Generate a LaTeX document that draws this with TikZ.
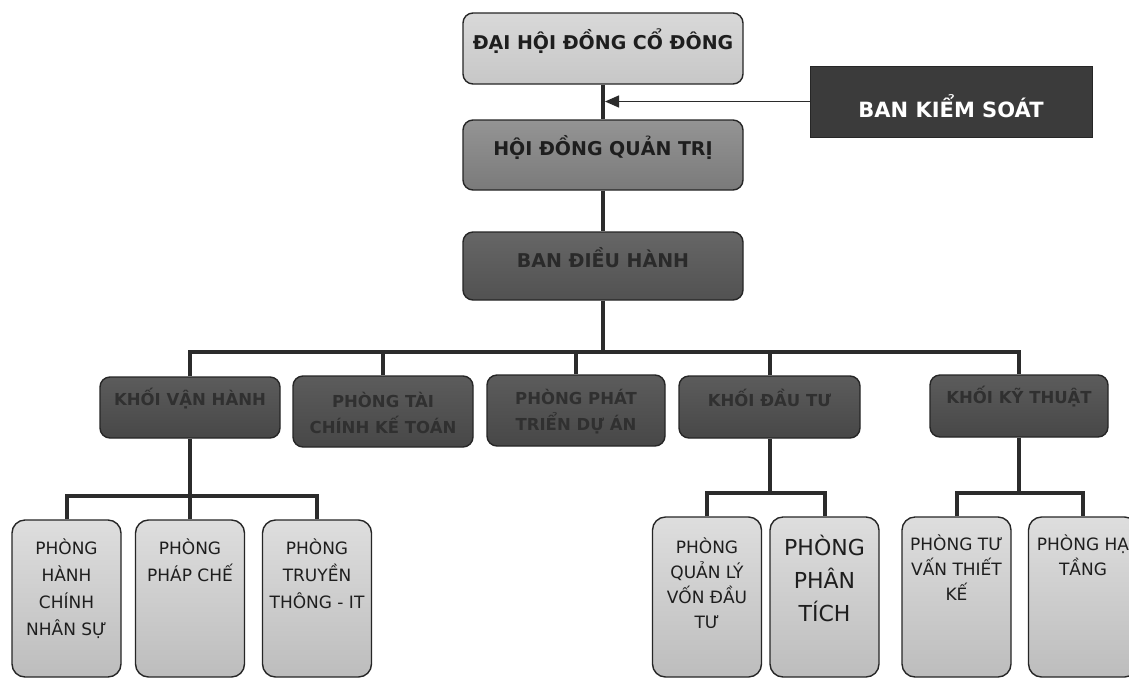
\documentclass[tikz,border=0pt]{standalone}
\usepackage{fontspec}
\setmainfont{DejaVu Sans}
\usetikzlibrary{arrows.meta}
\definecolor{lineC}{HTML}{2B2B2B}
\definecolor{edgeC}{HTML}{262626}
\definecolor{txtA}{HTML}{1E1E1E}
\definecolor{txtB}{HTML}{2A2A2A}
\definecolor{txtC}{HTML}{303030}
\begin{document}
\begin{tikzpicture}[x=1pt,y=-1pt,
  conn/.style={draw=lineC, line width=4pt},
  boxbase/.style={draw=edgeC, line width=1.4pt, rounded corners=10pt, inner sep=0pt},
  lightbox/.style={boxbase, top color=black!15, bottom color=black!22},
  midbox/.style={boxbase, top color=black!42, bottom color=black!52},
  darkbox/.style={boxbase, top color=black!60, bottom color=black!68},
  rowbox/.style={boxbase, top color=black!64, bottom color=black!72},
  bksbox/.style={draw=edgeC, line width=1pt, fill=black!77, inner sep=0pt},
  leafbox/.style={boxbase, rounded corners=13pt, top color=black!13, bottom color=black!26, minimum width=109pt},
  ttop/.style={font=\fontsize{19}{23}\selectfont\bfseries, text=txtA},
  tbks/.style={font=\fontsize{21}{25}\selectfont\bfseries, text=white},
  trow/.style={font=\fontsize{16.5}{26}\selectfont\bfseries, text=txtC, align=center},
  tleaf/.style={font=\fontsize{17}{27}\selectfont, text=txtA, align=center, anchor=north},
  tbig/.style={font=\fontsize{22}{33}\selectfont, text=txtA, align=center, anchor=north}
]
\useasboundingbox (0,0) rectangle (1129,678);
\fill[white] (0,0) rectangle (1129,678);
\clip (0,0) rectangle (1129,678);

% top level
\node[lightbox, minimum width=280pt, minimum height=71pt,
  label={[ttop, yshift=7pt]center:ĐẠI HỘI ĐỒNG CỔ ĐÔNG}] (dh) at (603,48.5) {};
\node[bksbox, minimum width=282pt, minimum height=71pt,
  label={[tbks, yshift=-5pt]center:BAN KIỂM SOÁT}] (bks) at (951,101.5) {};
\node[midbox, minimum width=280pt, minimum height=70pt,
  label={[ttop, yshift=8pt]center:HỘI ĐỒNG QUẢN TRỊ}] (hd) at (603,155) {};
\node[darkbox, minimum width=280pt, minimum height=68pt,
  label={[ttop, text=txtB, yshift=8pt]center:BAN ĐIỀU HÀNH}] (bdh) at (603,266) {};

% second row
\node[rowbox, minimum width=180pt, minimum height=61pt,
  label={[trow, yshift=9pt]center:KHỐI VẬN HÀNH}] (kvh) at (190,407.5) {};
\node[rowbox, minimum width=180pt, minimum height=71pt,
  label={[trow, yshift=-1pt]center:PHÒNG TÀI\\CHÍNH KẾ TOÁN}] (tc) at (383,411.5) {};
\node[rowbox, minimum width=178pt, minimum height=71pt,
  label={[trow, yshift=-1pt]center:PHÒNG PHÁT\\TRIỂN DỰ ÁN}] (pt) at (576,410.5) {};
\node[rowbox, minimum width=181pt, minimum height=62pt,
  label={[trow, yshift=9pt]center:KHỐI ĐẦU TƯ}] (kdt) at (769.5,407) {};
\node[rowbox, minimum width=178pt, minimum height=62pt,
  label={[trow, yshift=9pt]center:KHỐI KỸ THUẬT}] (kkt) at (1019,406) {};

% leaves
\node[leafbox, minimum height=157pt,
  label={[tleaf, yshift=-16pt]north:PHÒNG\\HÀNH\\CHÍNH\\NHÂN SỰ}] (b1) at (66.5,598.5) {};
\node[leafbox, minimum height=157pt,
  label={[tleaf, yshift=-16pt]north:PHÒNG\\PHÁP CHẾ}] (b2) at (190,598.5) {};
\node[leafbox, minimum height=157pt,
  label={[tleaf, yshift=-16pt]north:PHÒNG\\TRUYỀN\\THÔNG - IT}] (b3) at (317,598.5) {};
\node[leafbox, minimum height=160pt,
  label={[tleaf, font=\fontsize{17}{25}\selectfont, yshift=-18pt]north:PHÒNG\\QUẢN LÝ\\VỐN ĐẦU\\TƯ}] (b4) at (707,597) {};
\node[leafbox, minimum height=160pt,
  label={[tbig, yshift=-15pt]north:PHÒNG\\PHÂN\\TÍCH}] (b5) at (824.5,597) {};
\node[leafbox, minimum height=160pt,
  label={[tleaf, font=\fontsize{17}{25}\selectfont, yshift=-15pt]north:PHÒNG TƯ\\VẤN THIẾT\\KẾ}] (b6) at (956.5,597) {};
\node[leafbox, minimum height=160pt,
  label={[tleaf, font=\fontsize{17}{25}\selectfont, yshift=-15pt]north:PHÒNG HẠ\\TẦNG}] (b7) at (1083,597) {};

% connectors top
\draw[conn] (dh.south) -- (hd.north);
\draw[conn] (hd.south) -- (bdh.north);
\draw[draw=lineC, line width=1.3pt, shorten >=2pt, -{Triangle[length=14pt,width=12pt]}]
  (bks.west) -- (bks.west -| dh.south);

% bus to second row
\coordinate (bus) at (603,352);
\draw[conn] (bdh.south) -- (bus);
\draw[conn] (kvh.north) |- (bus) -| (kkt.north);
\draw[conn] (tc.north) -- (tc.north |- bus);
\draw[conn] (pt.north) -- (pt.north |- bus);
\draw[conn] (kdt.north) -- (kdt.north |- bus);

% KHOI VAN HANH children
\coordinate (busA) at (190,496);
\draw[conn] (kvh.south) -- (busA);
\draw[conn] (b1.north) |- (busA) -| (b3.north);
\draw[conn] (b2.north) -- (busA);

% KHOI DAU TU children
\coordinate (busB) at (769.5,493);
\draw[conn] (kdt.south) -- (busB);
\draw[conn] (b4.north) |- (busB) -| (b5.north);

% KHOI KY THUAT children
\coordinate (busC) at (1019,493);
\draw[conn] (kkt.south) -- (busC);
\draw[conn] (b6.north) |- (busC) -| (b7.north);
\end{tikzpicture}
\end{document}
